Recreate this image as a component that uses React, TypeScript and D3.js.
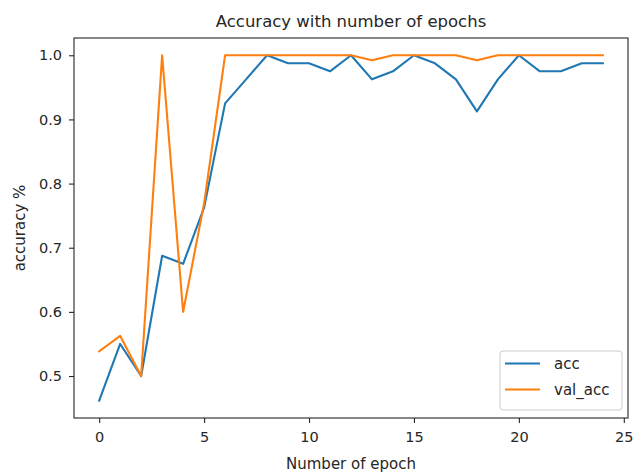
import React, { useEffect, useRef } from 'react';
import * as d3 from 'd3';

const epochs = d3.range(0, 25);
const acc = [0.4615, 0.55, 0.5, 0.6875, 0.675, 0.7625, 0.925, 0.9625, 1.0, 0.9875, 0.9875, 0.975, 1.0, 0.9625, 0.975, 1.0, 0.9875, 0.9625, 0.9125, 0.9625, 1.0, 0.975, 0.975, 0.9875, 0.9875];
const valAcc = [0.5385, 0.5625, 0.5, 1.0, 0.6, 0.7692, 1.0, 1.0, 1.0, 1.0, 1.0, 1.0, 1.0, 0.9923, 1.0, 1.0, 1.0, 1.0, 0.9923, 1.0, 1.0, 1.0, 1.0, 1.0, 1.0];
const xTicks = [0, 5, 10, 15, 20, 25];
const yTicks = [0.5, 0.6, 0.7, 0.8, 0.9, 1.0];
const seriesNames = ['acc', 'val_acc'];
const colors = ['#1f77b4', '#ff7f0e'];

export default function App() {
  const svgRef = useRef(null);
  const width = 633;
  const height = 473;
  const margin = { top: 38, right: 5, bottom: 55, left: 74 };

  useEffect(() => {
    const svg = d3.select(svgRef.current);
    svg.selectAll('*').remove();
    const font = 'DejaVu Sans, sans-serif';
    const ink = '#262626';

    // matplotlib style 5% margins
    const yMin = d3.min([...acc, ...valAcc]);
    const yMax = d3.max([...acc, ...valAcc]);
    const yPad = (yMax - yMin) * 0.05;
    const xPad = 24 * 0.05;

    const x = d3.scaleLinear()
      .domain([0 - xPad, 24 + xPad])
      .range([margin.left, width - margin.right]);
    const y = d3.scaleLinear()
      .domain([yMin - yPad, yMax + yPad])
      .range([height - margin.bottom, margin.top]);

    const line = d3.line()
      .x(d => x(d[0]))
      .y(d => y(d[1]));

    [acc, valAcc].forEach((vals, i) => {
      svg.append('path')
        .datum(epochs.map(e => [e, vals[e]]))
        .attr('fill', 'none')
        .attr('stroke', colors[i])
        .attr('stroke-width', 2.1)
        .attr('stroke-linejoin', 'round')
        .attr('stroke-linecap', 'square')
        .attr('d', line);
    });

    // axes
    const gx = svg.append('g')
      .attr('transform', `translate(0, ${height - margin.bottom})`)
      .call(d3.axisBottom(x).tickValues(xTicks).tickSize(5).tickPadding(9));
    const gy = svg.append('g')
      .attr('transform', `translate(${margin.left}, 0)`)
      .call(d3.axisLeft(y).tickValues(yTicks).tickFormat(d3.format('.1f')).tickSize(5).tickPadding(7));
    [gx, gy].forEach(g => {
      g.select('.domain').remove();
      g.selectAll('line').attr('stroke', ink).attr('stroke-width', 1.1);
      g.selectAll('text').attr('fill', ink).style('font-family', font).style('font-size', '14.5px');
    });

    // frame
    svg.append('rect')
      .attr('x', margin.left)
      .attr('y', margin.top)
      .attr('width', width - margin.left - margin.right)
      .attr('height', height - margin.top - margin.bottom)
      .attr('fill', 'none')
      .attr('stroke', ink)
      .attr('stroke-width', 1.1);

    // title and labels
    svg.append('text')
      .attr('x', (margin.left + width - margin.right) / 2)
      .attr('y', 27)
      .attr('text-anchor', 'middle')
      .attr('fill', ink)
      .style('font-family', font)
      .style('font-size', '16.5px')
      .text('Accuracy with number of epochs');
    svg.append('text')
      .attr('x', (margin.left + width - margin.right) / 2)
      .attr('y', 469)
      .attr('text-anchor', 'middle')
      .attr('fill', ink)
      .style('font-family', font)
      .style('font-size', '15px')
      .text('Number of epoch');
    svg.append('text')
      .attr('transform', `translate(25, ${(margin.top + height - margin.bottom) / 2}) rotate(-90)`)
      .attr('text-anchor', 'middle')
      .attr('fill', ink)
      .style('font-family', font)
      .style('font-size', '15px')
      .text('accuracy %');

    // legend
    const lg = svg.append('g').attr('transform', 'translate(500, 351)');
    lg.append('rect')
      .attr('width', 122)
      .attr('height', 59)
      .attr('rx', 3)
      .attr('fill', 'white')
      .attr('fill-opacity', 0.8)
      .attr('stroke', '#cccccc');
    seriesNames.forEach((name, i) => {
      const yy = 12.5 + i * 26;
      lg.append('line')
        .attr('x1', 5).attr('x2', 40)
        .attr('y1', yy).attr('y2', yy)
        .attr('stroke', colors[i])
        .attr('stroke-width', 2.1);
      lg.append('text')
        .attr('x', 54)
        .attr('y', yy)
        .attr('dy', '0.35em')
        .attr('fill', ink)
        .style('font-family', font)
        .style('font-size', '15px')
        .text(name);
    });
  }, []);

  return (
    <svg ref={svgRef} width={width} height={height}
      style={{ position: 'absolute', left: 0, top: 0, background: 'white' }} />
  );
}
